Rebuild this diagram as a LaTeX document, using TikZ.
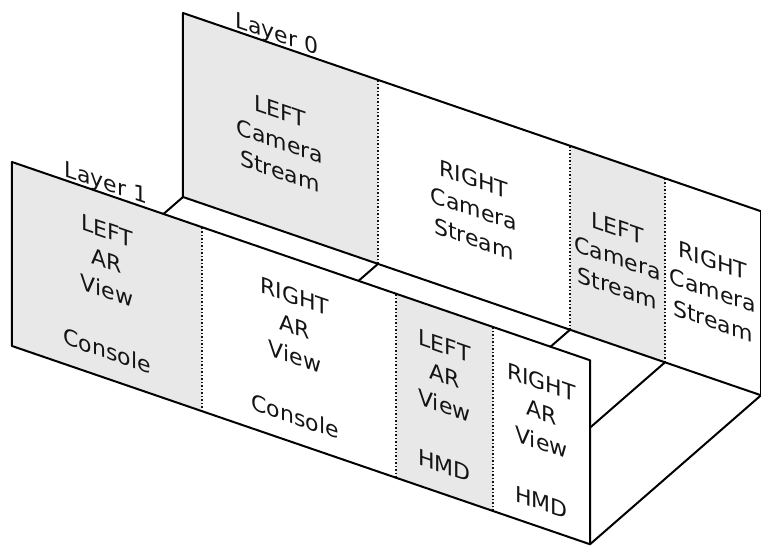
\documentclass[tikz,border=0pt]{standalone}
\usepackage{fontspec}
\setmainfont{DejaVu Sans}
\definecolor{panelgray}{RGB}{232,232,232}
\definecolor{inkgray}{RGB}{20,20,20}
\tikzset{
	edge/.style={draw=black, line width=1pt},
	divider/.style={draw=inkgray, line width=0.75pt, densely dotted, line cap=butt},
	paneltext/.style={align=center, text=inkgray, inner sep=0pt, transform shape,
		font=\fontsize{11}{15}\selectfont},
	layerlabel/.style={paneltext, anchor=base},
}
\begin{document}
\begin{tikzpicture}[x=0.5pt, y=0.5pt, line join=round, line cap=round]
	\useasboundingbox (-183,-349) rectangle (578,197);
	\begin{scope}[yslant=-0.343]
		\path
		% layer 0 (back)
		(0,0) coordinate (A0)
		(578,0) coordinate (B0)
		(578,184) coordinate (C0)
		(0,184) coordinate (D0)
		(195,0) coordinate (M0) (195,184) coordinate (M0')
		(387,0) coordinate (N0) (387,184) coordinate (N0')
		(482,0) coordinate (P0) (482,184) coordinate (P0')
		% layer 1 (front)
		(-171,-207.65) coordinate (A1)
		(407,-207.65) coordinate (B1)
		(407,-23.65) coordinate (C1)
		(-171,-23.65) coordinate (D1)
		(19,-207.65) coordinate (M1) (19,-23.65) coordinate (M1')
		(213,-207.65) coordinate (N1) (213,-23.65) coordinate (N1')
		(310,-207.65) coordinate (P1) (310,-23.65) coordinate (P1')
		;
		% layer 0
		\fill[panelgray] (A0)--(M0)--(M0')--(D0)--cycle (N0)--(P0)--(P0')--(N0')--cycle;
		\draw[divider] (M0)--(M0') (N0)--(N0') (P0)--(P0');
		\draw[edge] (A0)--(B0)--(C0)--(D0)--cycle;
		% floor
		\draw[edge] (A0)--(A1) (M0)--++(-171,-207.65) (N0)--++(-171,-207.65)
		(P0)--++(-171,-207.65) (B0)--(B1);
		% layer 1
		\fill[white] (A1)--(B1)--(C1)--(D1)--cycle;
		\fill[panelgray] (A1)--(M1)--(M1')--(D1)--cycle (N1)--(P1)--(P1')--(N1')--cycle;
		\draw[divider] (M1)--(M1') (N1)--(N1') (P1)--(P1');
		\draw[edge] (A1)--(B1)--(C1)--(D1)--cycle;
		
		\node[layerlabel] (lab0) at (94,188) {Layer 0};
		\node[layerlabel] (lab1) at (-77,-19.65) {Layer 1};
		
		\node[paneltext] (cam0) at (97,89) {LEFT\\Camera\\Stream};
		\node[paneltext] (cam1) at (291,88) {RIGHT\\Camera\\Stream};
		\node[paneltext] (cam2) at (434.5,88) {LEFT\\Camera\\Stream};
		\node[paneltext] (cam3) at (530,88) {RIGHT\\Camera\\Stream};
		
		\node[paneltext] (ar0) at (-76,-120) {LEFT\\AR\\View\\[15pt]Console};
		\node[paneltext] (ar1) at (112,-121) {RIGHT\\AR\\View\\[15pt]Console};
		\node[paneltext] (ar2) at (261.5,-119) {LEFT\\AR\\View\\[15pt]HMD};
		\node[paneltext] (ar3) at (358.5,-122) {RIGHT\\AR\\View\\[15pt]HMD};
	\end{scope}
\end{tikzpicture}
\end{document}
